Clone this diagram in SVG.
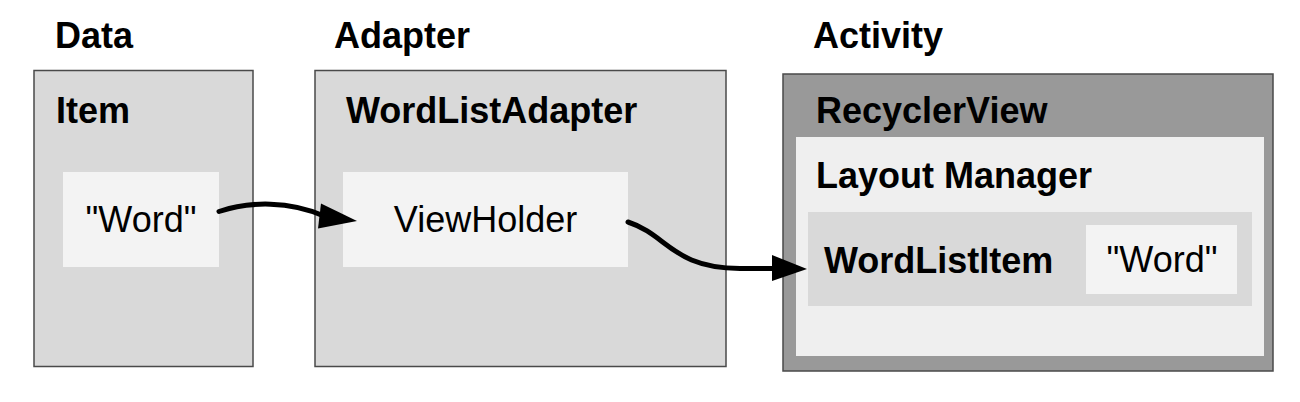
<svg xmlns="http://www.w3.org/2000/svg" width="1300" height="402" viewBox="0 0 1300 402">
<style>
  text { font-family: "Liberation Sans", Arial, sans-serif; font-size: 36px; fill: #000; }
  .b { font-weight: bold; }
  .outer { fill: #d9d9d9; stroke: #4a4a4a; stroke-width: 1.5; }
  .dark { fill: #999999; stroke: #4a4a4a; stroke-width: 1.5; }
  .lite { fill: #f3f3f3; }
  .lm { fill: #efefef; }
  .mid { fill: #d9d9d9; }
  .conn { fill: none; stroke: #000; stroke-width: 5; stroke-linecap: round; }
</style>
<rect width="1300" height="402" fill="#ffffff"/>

<g id="data">
  <text class="b" x="55" y="48">Data</text>
  <rect class="outer" x="34" y="70.5" width="219" height="296"/>
  <text class="b" x="56" y="123">Item</text>
  <g id="data-word">
    <rect class="lite" x="63" y="172" width="156" height="95"/>
    <text x="141" y="232" text-anchor="middle">"Word"</text>
  </g>
</g>

<g id="adapter">
  <text class="b" x="334" y="48">Adapter</text>
  <rect class="outer" x="315" y="70.5" width="411" height="296"/>
  <text class="b" x="346" y="123">WordListAdapter</text>
  <g id="viewholder">
    <rect class="lite" x="343" y="172" width="285" height="95"/>
    <text x="485.5" y="232" text-anchor="middle">ViewHolder</text>
  </g>
</g>

<g id="activity">
  <text class="b" x="813" y="48">Activity</text>
  <rect class="dark" x="783" y="74" width="490" height="297"/>
  <text class="b" x="816" y="123">RecyclerView</text>
  <g id="layout-manager">
    <rect class="lm" x="796" y="137" width="468" height="219"/>
    <text class="b" x="816" y="188">Layout Manager</text>
    <g id="wordlistitem">
      <rect class="mid" x="808" y="212" width="444" height="94"/>
      <text class="b" x="824" y="273">WordListItem</text>
      <g id="item-word">
        <rect class="lite" x="1086" y="225" width="151" height="69"/>
        <text x="1162" y="272" text-anchor="middle">"Word"</text>
      </g>
    </g>
  </g>
</g>

<g id="connectors">
  <path class="conn" d="M219,211.5 C250,201 290,201 324,216"/>
  <polygon points="357,221 321,203.5 318,228.5" fill="#000"/>
  <path class="conn" d="M628,222 C668,235 672,268 740,268.5 L776,268.5"/>
  <polygon points="807,269 772,255 772,281" fill="#000"/>
</g>
</svg>
